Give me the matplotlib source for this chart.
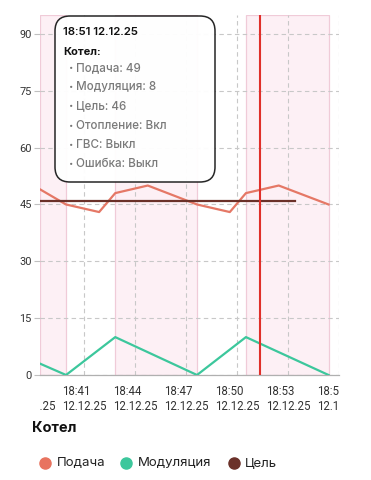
import datetime as dt
import matplotlib
matplotlib.use("Agg")
import matplotlib.pyplot as plt
import matplotlib.dates as mdates
from matplotlib.patches import FancyBboxPatch
from matplotlib.lines import Line2D
from matplotlib.transforms import Bbox, TransformedBbox, blended_transform_factory

plt.rcParams['font.family'] = ['Roboto', 'DejaVu Sans']
UI = ['Inter', 'Roboto', 'DejaVu Sans']

day = "2025-12-12 "
# Подача / Модуляция share the same sample times
times = ["18:38:23", "18:39:55", "18:41:52", "18:42:49", "18:44:44",
         "18:47:38", "18:49:34", "18:50:31", "18:52:27", "18:55:23"]
supply = [49, 45, 43, 48, 50, 45, 43, 48, 50, 45]
mod_times = ["18:38:23", "18:39:55", "18:42:49", "18:47:38", "18:50:31", "18:55:23"]
modulation = [3, 0, 10, 0, 10, 0]
target_times = ["18:38:23", "18:53:25"]
target = [46, 46]
# heating active intervals (pink bands)
bands = [("18:38:23", "18:39:55"), ("18:42:49", "18:47:38"), ("18:50:31", "18:55:23")]
cursor_time = "18:51:21"
tick_times = ["18:38", "18:41", "18:44", "18:47", "18:50", "18:53", "18:56"]
date_label = "12.12.25"
yticks = [0, 15, 30, 45, 60, 75, 90]
tooltip_title = "18:51 12.12.25"
tooltip_lines = ["Подача: 49", "Модуляция: 8", "Цель: 46",
                 "Отопление: Вкл", "ГВС: Выкл", "Ошибка: Выкл"]
series_names = ["Подача", "Модуляция", "Цель"]
colors = ["#e8735f", "#3cc79c", "#6b3129"]


def T(s):
    fmt = "%Y-%m-%d %H:%M:%S" if s.count(":") == 2 else "%Y-%m-%d %H:%M"
    return dt.datetime.strptime(day + s, fmt)


fig = plt.figure(figsize=(3.71, 4.8), dpi=100)
ax = fig.add_axes([40 / 371, 1 - 375 / 480, 299 / 371, 360 / 480])

for a, b in bands:
    ax.axvspan(T(a), T(b), facecolor="#fdf0f5", edgecolor="#f0cbd8", lw=0.9, zorder=0)

ax.plot([T(t) for t in times], supply, color="#e57866", lw=1.6, zorder=3)
ax.plot([T(t) for t in mod_times], modulation, color=colors[1], lw=1.6, zorder=3)
ax.plot([T(t) for t in target_times], target, color=colors[2], lw=1.6, zorder=4)
ax.axvline(T(cursor_time), color="#e0302a", lw=1.5, zorder=5)

ax.set_yticks(yticks)
ax.set_yticklabels([str(v) for v in yticks])
ax.set_xticks([mdates.date2num(T(t)) for t in tick_times])
ax.set_xticklabels([])
ax.set_xlim(T("18:38:23"), T("18:56:00"))
ax.set_ylim(0, 95)

ax.grid(True, color="#c8c8c8", lw=0.8, ls=(0, (4, 3)), zorder=1)
ax.set_axisbelow(True)
for side in ["top", "right", "left"]:
    ax.spines[side].set_visible(False)
ax.spines["bottom"].set_color("#b0b0b0")
ax.spines["bottom"].set_linewidth(0.9)
ax.tick_params(axis="y", length=4, width=0.8, color="#c0c0c0", labelsize=7.9,
               labelcolor="#333333", pad=2)
ax.tick_params(axis="x", length=0)

# x labels drawn by hand so the partly hidden ones at the edges get clipped
clip = TransformedBbox(Bbox([[0, -1], [1, 1]]), ax.transAxes)
trans = blended_transform_factory(ax.transData, ax.transAxes)
for t in tick_times:
    lab = ax.text(mdates.date2num(T(t)), -0.027, t + "\n" + date_label, transform=trans,
                  ha="center", va="top", multialignment="left", linespacing=1.2,
                  fontsize=8.3, color="#333333")
    lab.set_clip_path(None)
    lab.set_clip_box(clip)
    lab.set_clip_on(True)

# tooltip
inch = fig.dpi_scale_trans
box = FancyBboxPatch((0.55, 2.98), 1.60, 1.66,
                     boxstyle="round,pad=0,rounding_size=0.15",
                     transform=inch, facecolor="white", alpha=0.95,
                     edgecolor="#1a1a1a", lw=1.1, zorder=10)
fig.add_artist(box)
fig.text(0.63, 4.48, tooltip_title, transform=inch, fontsize=8.2, family=UI,
         fontweight="semibold", color="#111111", va="center", zorder=11)
fig.text(0.63, 4.28, "Котел:", transform=inch, fontsize=8.0, family=UI,
         fontweight="bold", color="#111111", va="center", zorder=11)
for i, line in enumerate(tooltip_lines):
    y = 4.12 - i * 0.192
    fig.text(0.685, y, "•", transform=inch, fontsize=5.5, color="#777777",
             family=UI, va="center", zorder=11)
    fig.text(0.755, y, line, transform=inch, fontsize=8.4, fontweight="medium",
             family=UI, color="#7a7a7a", va="center", zorder=11)

# section title and legend
fig.text(32 / 371, 1 - 428 / 480, "Котел", fontsize=10.5, fontweight="bold",
         family=UI, color="#111111", va="center")
leg_x = [(44.5, 56.5), (126, 137.5), (234, 245)]
for (cx, tx), name, c in zip(leg_x, series_names, colors):
    fig.add_artist(Line2D([cx / 371], [1 - 463 / 480], marker="o", ms=8,
                          color=c, transform=fig.transFigure, ls="none"))
    fig.text(tx / 371, 1 - 463 / 480, name, fontsize=9.5, color="#222222",
             family=UI, va="center")

fig.savefig("out.png", dpi=100)
